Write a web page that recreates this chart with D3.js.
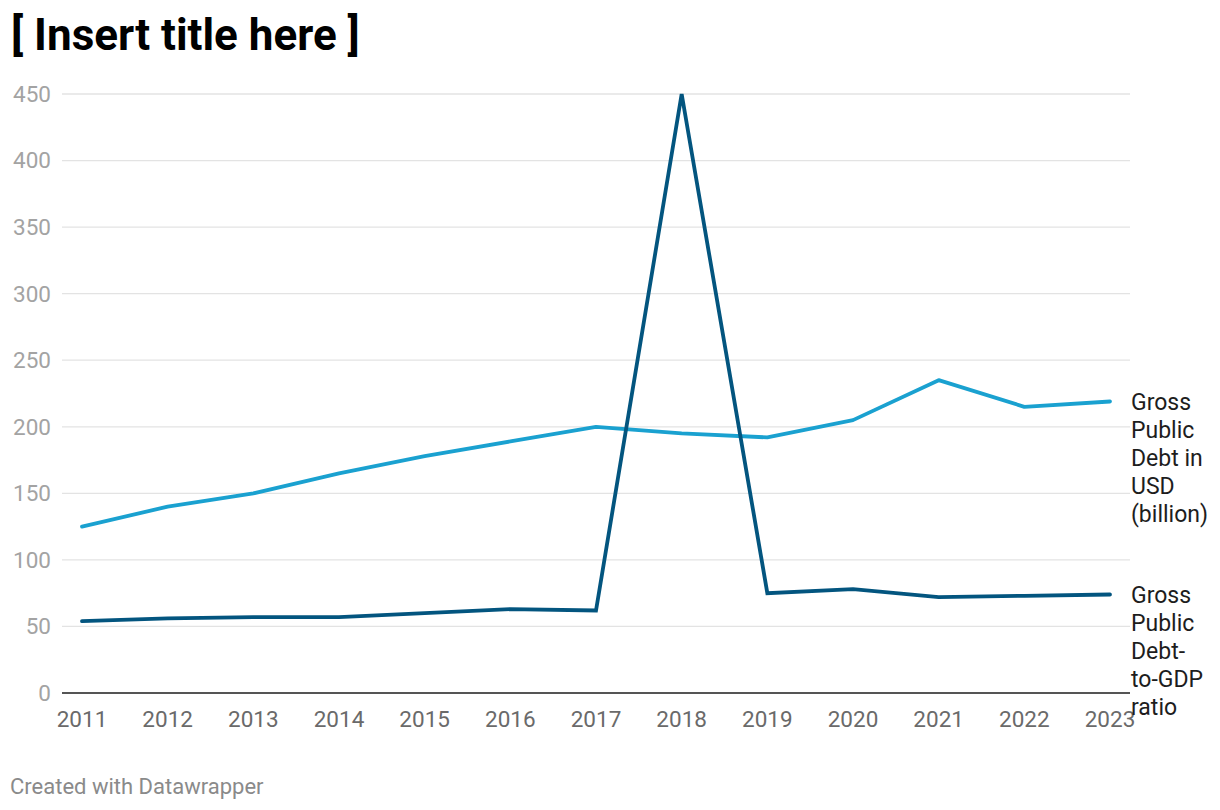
<!DOCTYPE html>
<html><head><meta charset="utf-8">
<script src="https://cdn.jsdelivr.net/npm/d3@7"></script>
<style>
html,body{margin:0;padding:0;background:#fff;}
svg{display:block;font-family:Roboto,"Noto Sans",sans-serif;}
</style></head>
<body><svg id="c" width="1220" height="810"></svg>
<script>
const years = [2011,2012,2013,2014,2015,2016,2017,2018,2019,2020,2021,2022,2023];
const debtUSD = [125,140,150,165,178,189,200,195,192,205,235,215,219];
const debtRatio = [54,56,57,57,60,63,62,450,75,78,72,73,74];
const yTicks = [0,50,100,150,200,250,300,350,400,450];
const labelUSD = ["Gross","Public","Debt in","USD","(billion)"];
const labelRatio = ["Gross","Public","Debt-","to-GDP","ratio"];

const svg = d3.select("#c");
const x = d3.scaleLinear().domain([2011,2023]).range([82,1110]);
const y = d3.scaleLinear().domain([0,450]).range([693,94]);
const gridL = 62, gridR = 1130;

svg.append("text").attr("x",11).attr("y",50)
  .attr("font-size",44).attr("font-weight",700).attr("fill","#000")
  .text("[ Insert title here ]");

const g = svg.append("g");
g.selectAll("line.grid").data(yTicks.filter(d=>d>0)).join("line")
  .attr("x1",gridL).attr("x2",gridR).attr("y1",d=>y(d)).attr("y2",d=>y(d))
  .attr("stroke","#e3e3e3").attr("stroke-width",1.3);
g.selectAll("text.yt").data(yTicks).join("text")
  .attr("x",51).attr("y",d=>y(d)).attr("dy","0.35em").attr("text-anchor","end")
  .attr("font-size",22.5).attr("fill","#a3a3a3").text(d=>d);
g.append("line").attr("x1",gridL).attr("x2",gridR).attr("y1",y(0)).attr("y2",y(0))
  .attr("stroke","#1d1d1d").attr("stroke-width",1.6);
g.selectAll("text.xt").data(years).join("text")
  .attr("x",d=>x(d)).attr("y",719).attr("dy","0.35em").attr("text-anchor","middle")
  .attr("font-size",22.5).attr("fill","#6a6a6a").text(d=>d);

const line = d3.line().x((d,i)=>x(years[i])).y(d=>y(d));
g.append("path").attr("d",line(debtUSD)).attr("fill","none")
  .attr("stroke","#1aa1d0").attr("stroke-width",3.8).attr("stroke-linejoin","round").attr("stroke-linecap","round");
g.append("path").attr("d",line(debtRatio)).attr("fill","none")
  .attr("stroke","#03557f").attr("stroke-width",3.8).attr("stroke-linejoin","miter").attr("stroke-linecap","round");

function lab(lines, v){
  const t = g.append("text").attr("x",1131).attr("y",y(v)).attr("dy","0.35em")
    .attr("font-size",23).attr("fill","#1d1d1d");
  lines.forEach((l,i)=>t.append("tspan").attr("x",1131).attr("dy",i===0?"0.35em":"28").text(l));
}
lab(labelUSD, debtUSD[debtUSD.length-1]);
lab(labelRatio, debtRatio[debtRatio.length-1]);

svg.append("text").attr("x",10).attr("y",794).attr("font-size",22).attr("fill","#8a8a8a")
  .text("Created with Datawrapper");
</script></body></html>
